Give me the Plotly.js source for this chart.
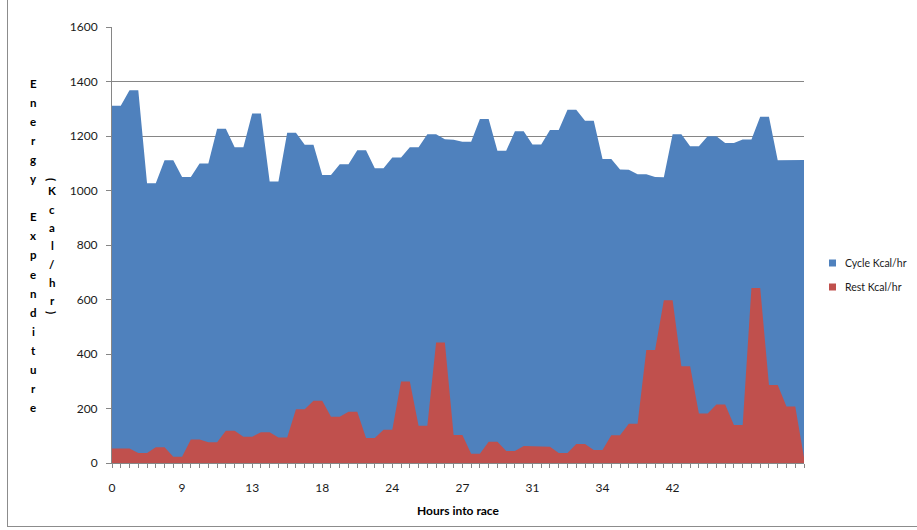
<!DOCTYPE html>
<html>
<head>
<meta charset="utf-8">
<script src="https://cdn.plot.ly/plotly-3.0.1.min.js"></script>
<style>
  body { margin: 0; background: #fff; }
  #chart { width: 917px; height: 530px; position: absolute; left: 0; top: 0; }
  #frame { position: absolute; left: 7px; top: -2px; width: 920px; height: 528px;
           border-left: 1px solid #8c8c8c; border-bottom: 1px solid #8c8c8c; pointer-events: none; }
</style>
</head>
<body>
<div id="chart"></div>
<div id="frame"></div>
<script>
// ---- data ----
const cycleKcal = [1311,1311,1368,1368,1027,1027,1111,1111,1050,1050,1099,1099,1227,1227,1159,1159,
  1283,1283,1033,1033,1212,1212,1168,1168,1057,1057,1096,1096,1148,1148,1082,1082,1121,1121,1159,1159,
  1206,1206,1188,1186,1179,1179,1262,1262,1146,1146,1217,1217,1169,1169,1222,1222,1296,1296,1256,1256,
  1116,1116,1077,1076,1060,1060,1050,1049,1206,1206,1162,1162,1199,1199,1174,1174,1187,1187,1271,1271,
  1111,1111,1112,1112];
const restKcal = [53,53,53,37,37,58,58,23,23,86,86,76,76,118,118,96,96,113,113,94,94,197,197,228,228,
  170,170,188,188,92,92,122,122,299,299,137,137,442,442,103,103,34,34,78,78,44,44,62,61,60,60,37,37,
  70,70,48,48,102,102,144,144,415,415,597,597,355,355,182,182,215,215,139,139,642,642,286,286,207,207,20];
const hourLabels = ['0','9','13','18','24','27','31','34','42'];
const labelEvery = 8;
const seriesNames = ['Cycle Kcal/hr', 'Rest Kcal/hr'];
const yTitleMain = 'Energy Expenditure';
const yTitleUnit = '(Kcal/hr)';

// ---- build ----
const idx = cycleKcal.map((_, i) => i);
const tickText = idx.map(i => (i % labelEvery === 0 && hourLabels[i / labelEvery] !== undefined) ? hourLabels[i / labelEvery] : '');

const BLUE = '#4F81BD', RED = '#C0504D';
const colors = [BLUE, RED];
const font = 'Lato, "Open Sans", sans-serif';

const traces = [
  { x: idx, y: cycleKcal, type: 'scatter', mode: 'lines', fill: 'tozeroy', name: seriesNames[0],
    line: { width: 0, color: BLUE }, fillcolor: BLUE, showlegend: false, hoverinfo: 'skip' },
  { x: idx, y: restKcal, type: 'scatter', mode: 'lines', fill: 'tozeroy', name: seriesNames[1],
    line: { width: 0, color: RED }, fillcolor: RED, showlegend: false, hoverinfo: 'skip' }
];

// plot area in pixels
const L = 112, R = 804, T = 27, B = 463;
const W = 917, H = 530;
const px = x => (x - L) / (R - L);
const py = y => (B - y) / (B - T);

const annotations = [];
const shapes = [];
// vertical stacked y-axis title, column 1
let k = 0;
for (const ch of yTitleMain) {
  if (ch !== ' ') {
    annotations.push({ text: '<b>' + ch + '</b>', xref: 'paper', yref: 'paper', x: px(33), y: py(83 + k * 19.1),
      showarrow: false, xanchor: 'center', yanchor: 'middle', font: { family: font, size: 11.5, color: '#000' } });
  }
  k++;
}
// column 2 (unit)
const unitChars = Array.from(yTitleUnit);
unitChars.forEach((ch, j) => {
  let yy;
  if (j === 0) yy = 179;
  else if (j === unitChars.length - 1) yy = 312;
  else yy = 191 + (j - 1) * 18.3;
  const paren = (ch === '(' || ch === ')');
  annotations.push({ text: '<b>' + ch + '</b>', xref: 'paper', yref: 'paper', x: px(52), y: py(yy),
    showarrow: false, xanchor: 'center', yanchor: 'middle', textangle: paren ? 90 : 0,
    font: { family: font, size: 11.5, color: '#000' } });
});

// legend (drawn manually so it does not shrink the plot area)
seriesNames.forEach((nm, j) => {
  const cy = 263 + j * 24;
  shapes.push({ type: 'rect', xref: 'paper', yref: 'paper', x0: px(829), x1: px(836), y0: py(cy + 3.5), y1: py(cy - 3.5),
    fillcolor: colors[j], line: { width: 0 } });
  annotations.push({ text: nm, xref: 'paper', yref: 'paper', x: px(843), y: py(cy), xanchor: 'left', yanchor: 'middle',
    showarrow: false, font: { family: font, size: 10.5, color: '#1a1a1a' } });
});

const layout = {
  width: W, height: H,
  margin: { l: L, r: W - R, t: T, b: H - B, pad: 0 },
  paper_bgcolor: '#fff', plot_bgcolor: '#fff',
  font: { family: font, size: 12, color: '#1a1a1a' },
  xaxis: {
    range: [0, idx.length - 1], tickmode: 'array', tickvals: idx, ticktext: tickText,
    ticks: 'outside', ticklen: 4, tickcolor: '#868686', tickwidth: 1,
    showline: true, linecolor: '#868686', linewidth: 1, showgrid: false, zeroline: false,
    tickangle: 0, tickfont: { family: font, size: 12, color: '#1a1a1a' }, ticklabelstandoff: 10,
    title: { text: '<b>Hours into race</b>', standoff: 12, font: { family: font, size: 12, color: '#000' } },
    automargin: false
  },
  yaxis: {
    range: [0, 1600], dtick: 200, tick0: 0,
    ticks: 'outside', ticklen: 5, tickcolor: '#868686', tickwidth: 1,
    showline: true, linecolor: '#868686', linewidth: 1,
    showgrid: true, gridcolor: '#868686', gridwidth: 1, zeroline: false,
    tickfont: { family: font, size: 12, color: '#1a1a1a' }, ticklabelstandoff: 6,
    automargin: false
  },
  showlegend: false,
  annotations: annotations,
  shapes: shapes
};

Plotly.newPlot('chart', traces, layout, { staticPlot: true, displayModeBar: false });
</script>
</body>
</html>
